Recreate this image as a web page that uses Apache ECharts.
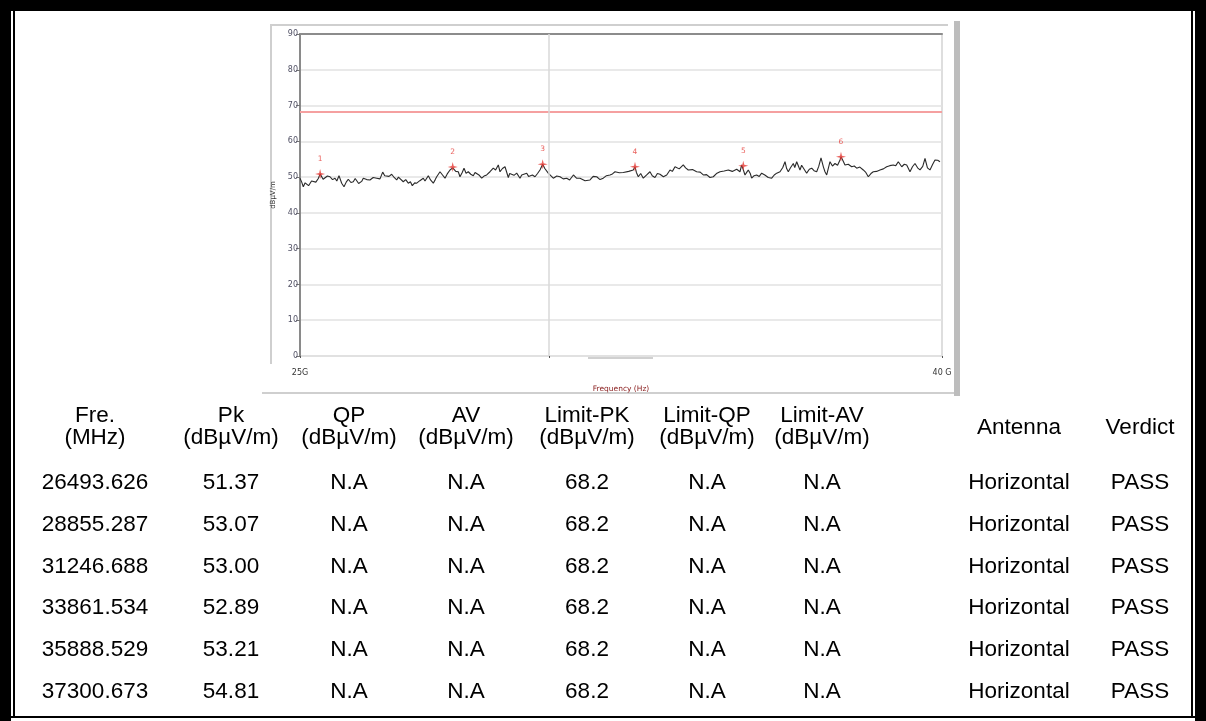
<!DOCTYPE html>
<html>
<head>
<meta charset="utf-8">
<script src="https://cdn.jsdelivr.net/npm/echarts@6/dist/echarts.min.js"></script>
<style>
html,body{margin:0;padding:0;background:#fff;}
#c{width:1206px;height:721px;}
</style>
</head>
<body>
<div id="c"></div>
<script>
// ---------- DATA ----------
const traceFreqMHz = [25000,25040,25077,25120,25157,25200,25234,25270,25311,25370,25428,25470,25540,25584,25640,25701,25760,25818,25860,25911,25974,26028,26080,26128,26190,26245,26290,26325,26370,26402,26440,26479,26560,26635,26710,26792,26869,26932,26980,27026,27080,27142,27200,27259,27300,27336,27413,27470,27530,27580,27624,27680,27727,27800,27881,27920,27960,27998,28050,28114,28160,28194,28271,28330,28388,28440,28505,28568,28640,28698,28738,28790,28832,28880,28932,28990,29049,29090,29128,29190,29245,29300,29362,29439,29516,29570,29633,29673,29730,29790,29867,29900,29946,30000,30063,30140,30180,30217,30297,30340,30374,30430,30491,30550,30607,30670,30720,30764,30800,30841,30918,31000,31075,31150,31232,31300,31388,31460,31542,31660,31776,31850,31932,32010,32086,32160,32243,32300,32360,32460,32554,32680,32787,32827,32860,32904,32960,33021,33100,33177,33230,33294,33350,33411,33490,33568,33645,33700,33762,33860,33955,34010,34072,34170,34268,34350,34423,34500,34579,34656,34730,34813,34910,35007,35100,35203,35280,35320,35357,35397,35440,35474,35520,35553,35610,35670,35730,35787,35860,35941,36021,36080,36138,36215,36280,36332,36370,36409,36460,36526,36560,36605,36682,36720,36759,36838,36900,36955,37010,37072,37120,37173,37230,37266,37306,37383,37440,37500,37560,37617,37640,37690,37733,37810,37890,37950,38007,38080,38161,38220,38278,38340,38395,38470,38551,38630,38707,38780,38862,38920,38979,39059,39120,39175,39252,39310,39369,39430,39486,39550,39603,39660,39719,39780,39836,39900,39953];
const traceLevel = [49.7,48.6,47.3,48.4,48.2,47.6,47.8,48.9,49.2,48.6,49.6,50.9,49.4,49.2,50.3,50.1,49.3,49.7,48.9,50.4,48.3,47.3,48.6,49.4,48.5,48.7,49.6,49.2,48.2,47.8,48.8,49.7,49.3,49.2,49.9,49.7,49.5,51.4,50.4,50.6,50.2,50.8,49.9,49.2,50.0,49.7,48.7,49.3,48.3,48.7,47.6,48.4,48.3,49.0,49.7,48.9,48.7,50.4,49.2,48.3,49.3,50.1,51.5,50.6,49.7,50.9,52.0,52.6,51.6,51.5,50.1,51.3,52.5,51.1,51.5,50.8,50.4,51.3,51.1,50.5,49.7,50.3,50.6,51.5,52.5,52.0,53.4,51.5,52.4,52.9,49.9,51.0,51.5,50.5,51.1,49.7,50.6,50.4,51.1,50.2,49.7,50.6,50.1,51.0,52.0,53.6,52.4,52.0,51.1,50.6,49.7,50.3,50.1,49.5,49.7,49.2,50.6,49.7,49.7,49.0,49.2,50.2,50.1,49.3,49.7,50.4,50.6,50.9,51.5,51.2,51.3,51.6,52.0,52.9,51.3,50.1,51.0,49.7,50.6,51.5,50.4,49.9,51.0,50.8,50.1,50.6,52.0,51.6,52.9,52.3,53.4,52.6,52.0,52.1,51.5,51.4,50.6,50.7,49.9,50.1,51.0,51.5,51.7,52.0,51.6,52.2,51.5,53.4,53.2,50.6,51.4,52.0,51.0,49.7,50.4,50.6,50.2,51.1,50.6,49.9,49.7,50.6,51.1,51.5,52.7,54.3,52.4,51.5,52.6,53.8,52.7,54.3,52.0,53.3,52.9,51.1,52.2,52.5,51.8,51.5,53.0,55.4,52.8,51.5,50.6,54.3,53.1,53.8,53.3,54.8,55.7,54.5,53.4,53.6,52.9,53.1,52.5,52.8,52.0,51.3,50.1,51.0,51.5,51.6,52.0,52.3,52.9,53.2,53.4,53.2,54.3,52.9,53.6,53.4,51.5,52.9,53.8,52.6,52.0,53.0,55.2,52.6,52.0,53.5,54.8,54.7,54.3];
const limitPk = 68.2;
const cursorFreqMHz = 30818;
const markerIds = ['1','2','3','4','5','6'];
const markerPlotFreqMHz = [25470,28568,30670,32827,35357,37640];
const markerPlotLevel = [50.9,52.8,53.6,52.9,53.2,55.7];
const xTickLabels = {25000:'25G', 40000:'40 G'};
const headerLine1 = ['Fre.','Pk','QP','AV','Limit-PK','Limit-QP','Limit-AV','Antenna','Verdict'];
const headerLine2 = ['(MHz)','(dBµV/m)','(dBµV/m)','(dBµV/m)','(dBµV/m)','(dBµV/m)','(dBµV/m)','',''];
const colFre = ['26493.626','28855.287','31246.688','33861.534','35888.529','37300.673'];
const colPk = ['51.37','53.07','53.00','52.89','53.21','54.81'];
const colQP = ['N.A','N.A','N.A','N.A','N.A','N.A'];
const colAV = ['N.A','N.A','N.A','N.A','N.A','N.A'];
const colLimitPk = ['68.2','68.2','68.2','68.2','68.2','68.2'];
const colLimitQP = ['N.A','N.A','N.A','N.A','N.A','N.A'];
const colLimitAV = ['N.A','N.A','N.A','N.A','N.A','N.A'];
const colAntenna = ['Horizontal','Horizontal','Horizontal','Horizontal','Horizontal','Horizontal'];
const colVerdict = ['PASS','PASS','PASS','PASS','PASS','PASS'];

// ---------- LAYOUT ----------
const colCenters = [95,231,349,466,587,707,822,1019,1140];
const headY1 = 416, headY2 = 438, headYMid = 428;
const rowY = [483,525,567,608,650,692];
const tableFont = '22.5px "Liberation Sans", Arial, sans-serif';

const traceData = traceFreqMHz.map((f,i)=>[f,traceLevel[i]]);
const markerData = markerPlotFreqMHz.map((f,i)=>({value:[f,markerPlotLevel[i]], name:markerIds[i]}));

const graphic = [];
function txt(x,y,t){
  graphic.push({type:'text', x:x, y:y, z:50, silent:true,
    style:{text:t, font:tableFont, fill:'#000', align:'center', verticalAlign:'middle', textAlign:'center', textVerticalAlign:'middle'}});
}
headerLine1.forEach((h,i)=>{
  if (headerLine2[i]) { txt(colCenters[i], headY1, h); txt(colCenters[i], headY2, headerLine2[i]); }
  else txt(colCenters[i], headYMid, h);
});
const cols = [colFre,colPk,colQP,colAV,colLimitPk,colLimitQP,colLimitAV,colAntenna,colVerdict];
cols.forEach((col,ci)=>col.forEach((v,ri)=>txt(colCenters[ci], rowY[ri], v)));

function rect(x,y,w,h,fill){ graphic.push({type:'rect', z:-10, zlevel:0, silent:true, shape:{x,y,width:w,height:h}, style:{fill}}); }
// outer black frame
rect(0,0,1206,11,'#000');
rect(0,0,11,721,'#000');
rect(1195,0,11,721,'#000');
rect(13,11,2,707,'#000');
rect(1191,11,2,707,'#000');
rect(11,716,1184,2,'#000');
// chart panel frame
rect(270,24,678,2,'#cfcfcf');
rect(270,24,2,340,'#cfcfcf');
rect(262,392,692,2,'#cfcfcf');
rect(954,21,6,375,'#bdbdbd');
rect(588,357,65,2,'#d0d0d0');

const chart = echarts.init(document.getElementById('c'), null, {renderer:'canvas'});
chart.setOption({
  animation:false,
  backgroundColor:'#fff',
  graphic: graphic,
  grid:{left:300, top:34, width:642, height:322, show:true, borderColor:'#d4d4d4', borderWidth:1.5, backgroundColor:'#fff'},
  xAxis:[{
    type:'value', min:25000, max:40000, interval:15000, offset:9,
    axisLine:{show:false},
    axisTick:{show:true, length:2, lineStyle:{color:'#555', width:1}, customValues:[25000, cursorFreqMHz, 40000]},
    axisLabel:{show:true, margin:4, fontSize:8, color:'#333', fontFamily:'"DejaVu Sans", sans-serif', formatter:v=>xTickLabels[v]||'', customValues:[25000,40000]},
    splitLine:{show:false},
    name:'Frequency (Hz)', nameLocation:'middle', nameGap:20,
    nameTextStyle:{fontSize:7.5, color:'#8b2020', fontFamily:'"DejaVu Sans", sans-serif'}
  },{
    type:'value', position:'top', min:25000, max:40000,
    axisLine:{show:true, lineStyle:{color:'#8c8c8c', width:2}},
    axisTick:{show:false}, axisLabel:{show:false}, splitLine:{show:false}
  }],
  yAxis:{
    type:'value', min:0, max:90, interval:10,
    axisLine:{show:true, lineStyle:{color:'#8a8a8a', width:2}},
    axisTick:{show:true, length:4, lineStyle:{color:'#777'}},
    axisLabel:{margin:2, fontSize:8, color:'#505064', fontFamily:'"DejaVu Sans", sans-serif'},
    splitLine:{show:true, lineStyle:{color:'#e2e2e2', width:1.5}},
    name:'dBµV/m', nameLocation:'middle', nameGap:20, nameRotate:90,
    nameTextStyle:{fontSize:7, color:'#333', fontFamily:'"DejaVu Sans", sans-serif', verticalAlign:'middle'}
  },
  series:[
    {type:'line', name:'Limit', data:[[25000,limitPk],[40000,limitPk]], showSymbol:false,
     lineStyle:{color:'#f5a0a0', width:2}, z:2,
     markLine:{silent:true, symbol:'none', label:{show:false}, lineStyle:{color:'#d8d8d8', width:1.5, type:'solid'}, data:[{xAxis:cursorFreqMHz}]}},
    {type:'line', name:'Trace', data:traceData, showSymbol:false, lineStyle:{color:'#2a2a2a', width:1.1}, z:3},
    {type:'scatter', name:'Markers', data:markerData, z:4,
     symbol:'path://M0,-10 L2,-2 L10,0 L2,2 L0,10 L-2,2 L-10,0 L-2,-2 Z', symbolSize:10,
     itemStyle:{color:'#e53935'},
     label:{show:true, position:'top', distance:6, formatter:p=>p.name, fontSize:7.5, color:'#e53935', fontFamily:'"DejaVu Sans", sans-serif'}}
  ]
});
</script>
</body>
</html>
